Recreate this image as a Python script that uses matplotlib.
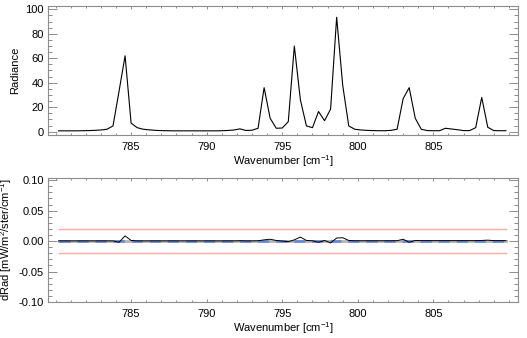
import numpy as np
import matplotlib
matplotlib.use("Agg")
import matplotlib.pyplot as plt
from matplotlib.ticker import MultipleLocator, FixedLocator, FormatStrFormatter

plt.rcParams["font.family"] = ["Liberation Sans", "DejaVu Sans"]
plt.rcParams["mathtext.default"] = "regular"
plt.rcParams["axes.unicode_minus"] = False

wavenumber = [
    780.2, 780.6, 781.0, 781.4, 781.8, 782.2, 782.6, 783.0, 783.4, 783.8,
    784.2, 784.6, 785.0, 785.4, 785.8, 786.2, 786.6, 787.0, 787.4, 787.8,
    788.2, 788.6, 789.0, 789.4, 789.8, 790.2, 790.6, 791.0, 791.4, 791.8,
    792.2, 792.6, 793.0, 793.4, 793.8, 794.2, 794.6, 795.0, 795.4, 795.8,
    796.2, 796.6, 797.0, 797.4, 797.8, 798.2, 798.6, 799.0, 799.4, 799.8,
    800.2, 800.6, 801.0, 801.4, 801.8, 802.2, 802.6, 803.0, 803.4, 803.8,
    804.2, 804.6, 805.0, 805.4, 805.8, 806.2, 806.6, 807.0, 807.4, 807.8,
    808.2, 808.6, 809.0, 809.4, 809.8,
]
radiance = [
    0.7, 0.7, 0.7, 0.7, 0.8, 0.9, 1.1, 1.4, 2.0, 4.7,
    33.0, 62.0, 7.0, 3.3, 2.0, 1.5, 1.1, 0.9, 0.8, 0.7,
    0.7, 0.7, 0.7, 0.7, 0.7, 0.7, 0.7, 0.8, 1.0, 1.4,
    2.3, 1.0, 1.2, 2.8, 36.0, 11.0, 2.8, 3.0, 8.2, 70.0,
    26.0, 4.7, 3.3, 16.5, 9.0, 18.5, 93.5, 38.0, 4.7, 2.0,
    1.4, 1.1, 0.9, 0.8, 0.8, 1.1, 2.0, 27.0, 36.0, 11.0,
    2.0, 0.9, 0.8, 0.8, 2.8, 2.2, 1.6, 0.9, 0.9, 3.3,
    28.0, 3.6, 0.9, 0.8, 0.8,
]
d_radiance = [
    0.0003, 0.0003, 0.0003, 0.0003, 0.0003, 0.0003, 0.0003, 0.0003, 0.0003, 0.0003,
    -0.002, 0.0085, 0.001, 0.0003, 0.0003, 0.0003, 0.0003, 0.0003, 0.0003, 0.0003,
    0.0003, 0.0003, 0.0003, 0.0003, 0.0003, 0.0003, 0.0003, 0.0003, 0.0003, 0.0003,
    0.0006, 0.0003, 0.0003, 0.0005, 0.002, 0.003, 0.001, 0.0, -0.001, 0.002,
    0.0065, 0.001, 0.0005, -0.002, 0.001, -0.003, 0.005, 0.0055, 0.001, 0.0005,
    0.0005, 0.0005, 0.0005, 0.0005, 0.0005, 0.0005, 0.0006, 0.003, -0.002, 0.001,
    0.0007, 0.0007, 0.0007, 0.0007, 0.0007, 0.0007, 0.0007, 0.0007, 0.0007, 0.0007,
    0.001, 0.0015, 0.0007, 0.0007, 0.0007,
]
reference = [0.0] * len(wavenumber)
noise_limit = 0.02
x_ticks = [785, 790, 795, 800, 805]

axis_color = "#8c8c8c"

fig = plt.figure(figsize=(5.27, 3.38), dpi=100)
ax1 = fig.add_axes([48 / 527, 1 - 135 / 338, 470 / 527, 129 / 338])
ax2 = fig.add_axes([48 / 527, 1 - 302 / 338, 470 / 527, 124.3 / 338])

ax1.plot(wavenumber, radiance, color="black", lw=0.8)
ax1.set_ylim(-2.7, 102.7)
ax1.set_ylabel("Radiance", fontsize=8, labelpad=4)
ax1.yaxis.set_major_locator(MultipleLocator(20))
ax1.yaxis.set_minor_locator(MultipleLocator(5))

ax2.plot(wavenumber, [noise_limit] * len(wavenumber), color="#ffaca2", lw=1.0)
ax2.plot(wavenumber, [-noise_limit] * len(wavenumber), color="#ffaca2", lw=1.0)
ax2.plot(wavenumber, reference, color="#b4b4b4", lw=2.0)
ax2.plot(wavenumber, reference, color="#6a8bd6", lw=2.0, dashes=(4, 2.5))
ax2.plot(wavenumber, d_radiance, color="black", lw=0.7)
ax2.set_ylim(-0.1, 0.104)
ax2.set_ylabel("dRad [mW/m$^2$/ster/cm$^{-1}$]", fontsize=8, labelpad=3)
ax2.yaxis.set_major_locator(MultipleLocator(0.05))
ax2.yaxis.set_minor_locator(MultipleLocator(0.01))
ax2.yaxis.set_major_formatter(FormatStrFormatter("%.2f"))

for ax in (ax1, ax2):
    ax.set_xlim(779.5, 810.6)
    ax.xaxis.set_major_locator(FixedLocator(x_ticks))
    ax.xaxis.set_minor_locator(MultipleLocator(1))
    ax.set_xlabel("Wavenumber [cm$^{-1}$]", fontsize=8, labelpad=1)
    for s in ax.spines.values():
        s.set_color(axis_color)
        s.set_linewidth(0.8)
    ax.tick_params(axis="both", which="both", direction="in", top=True,
                   right=True, color=axis_color, labelsize=8, width=0.7)
    ax.tick_params(axis="x", which="major", length=2.5, pad=5)
    ax.tick_params(axis="x", which="minor", length=1.3)
    ax.tick_params(axis="y", which="major", length=6.5, pad=3)
    ax.tick_params(axis="y", which="minor", length=3.2)

fig.savefig("out.png", dpi=100)
